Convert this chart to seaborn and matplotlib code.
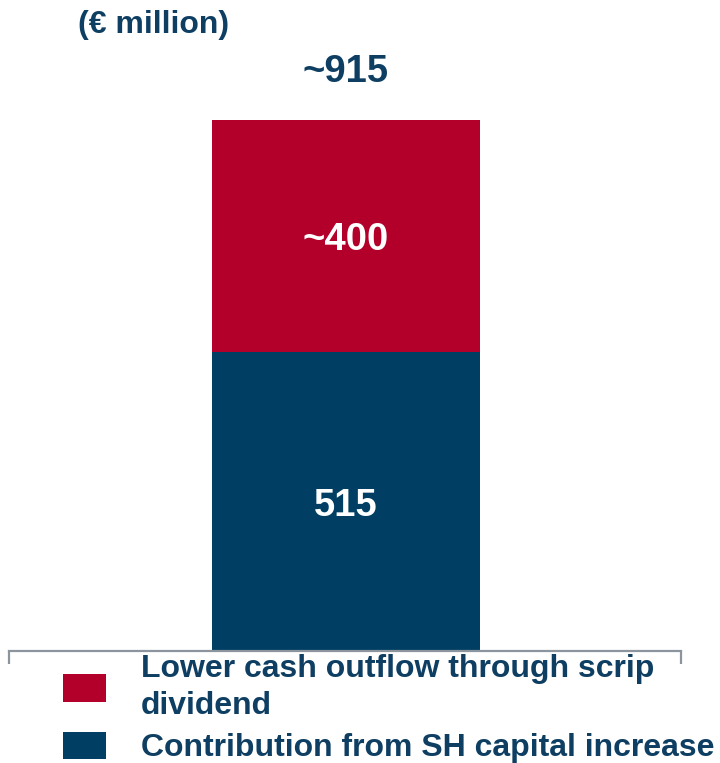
import matplotlib
matplotlib.use("Agg")
import matplotlib.pyplot as plt
import seaborn as sns
import pandas as pd
from matplotlib.patches import Patch

sns.set_style("white")
plt.rcParams['font.family'] = ['Liberation Sans', 'DejaVu Sans']
plt.rcParams['font.weight'] = 'bold'

# Data
categories = ["Total"]
sh_capital = [515]
scrip_dividend = [400]
total_label = ["~915"]
segment_labels_top = ["~400"]
segment_labels_bottom = ["515"]
legend_labels = ["Lower cash outflow through scrip\ndividend",
                 "Contribution from SH capital increase"]
unit_label = "(€ million)"

RED = "#B3002B"
BLUE = "#003F63"
TXT = "#0E3F63"
GREY = "#8C959D"

df = pd.DataFrame({"cat": categories,
                   "base": sh_capital,
                   "top": scrip_dividend})
df["total"] = df["base"] + df["top"]

W, H = 720, 763
fig = plt.figure(figsize=(W / 100, H / 100), dpi=100)
ax = fig.add_axes([9 / W, (H - 651) / H, 672 / W, (651 - 120) / H])

sns.barplot(data=df, x="cat", y="total", color=RED, width=0.8,
            saturation=1, ax=ax, linewidth=0)
sns.barplot(data=df, x="cat", y="base", color=BLUE, width=0.8,
            saturation=1, ax=ax, linewidth=0)

ax.set_xlim(-1.006, 1.0)
ax.set_ylim(0, float(df["total"].max()))
ax.set_xlabel("")
ax.set_ylabel("")
ax.set_yticks([])
ax.set_xticks([-1.006, 1.0])
ax.set_xticklabels(["", ""])
ax.tick_params(axis="x", direction="out", length=9.5, width=1.6, color=GREY,
               bottom=True)
for s in ["top", "left", "right"]:
    ax.spines[s].set_visible(False)
ax.spines["bottom"].set_color(GREY)
ax.spines["bottom"].set_linewidth(1.6)

for i, row in df.iterrows():
    ax.text(i, row["base"] / 2, segment_labels_bottom[i], ha="center",
            va="center_baseline", color="white", fontsize=27.5, fontweight="bold")
    ax.text(i, row["base"] + row["top"] / 2, segment_labels_top[i], ha="center",
            va="center_baseline", color="white", fontsize=27.5, fontweight="bold")
    ax.annotate(total_label[i], xy=(i, row["total"]), xytext=(0, 37.5),
                textcoords="offset points", ha="center", va="center_baseline",
                color=TXT, fontsize=27.5, fontweight="bold", annotation_clip=False)

fig.text(78 / W, 1 - 22 / H, unit_label, ha="left", va="center_baseline",
         color=TXT, fontsize=23, fontweight="bold")

handles = [Patch(facecolor=RED, edgecolor="none"),
           Patch(facecolor=BLUE, edgecolor="none")]
leg = fig.legend(handles, legend_labels, loc="upper left",
                 bbox_to_anchor=(50 / W, 1 - 641 / H), frameon=False,
                 fontsize=23, handlelength=1.35, handleheight=0.95,
                 handletextpad=1.1, labelspacing=0.34, borderaxespad=0)
for t in leg.get_texts():
    t.set_color(TXT)
    t.set_fontweight("bold")
    t.set_linespacing(1.3)

fig.savefig("out.png", dpi=100)
